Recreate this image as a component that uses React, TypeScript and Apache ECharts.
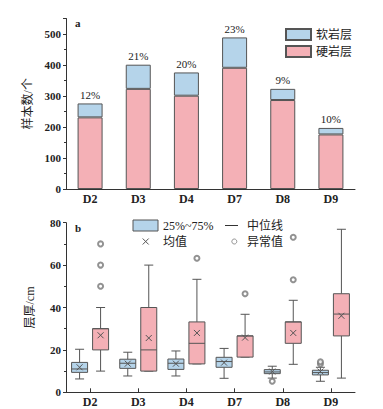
import React, { useEffect, useRef } from "react";
import * as echarts from "echarts";

const categories = ["D2", "D3", "D4", "D7", "D8", "D9"];
const hardCounts = [231, 323, 301, 391, 287, 176];
const softCounts = [45, 78, 75, 98, 36, 21];
const softPercentLabels = ["12%", "21%", "20%", "23%", "9%", "10%"];

// [min, q1, median, q3, max, mean]
const softBoxStats = [
  [6.3, 9.4, 11, 14.1, 20.3, 11.8],
  [7.7, 11.3, 13.7, 15.6, 18.9, 13.5],
  [7.7, 10.8, 13.7, 15.7, 19.5, 13.5],
  [6.6, 11.8, 14.5, 16.5, 20.7, 14],
  [6.7, 8.8, 9.6, 10.7, 12.3, 9.8],
  [5.2, 8.2, 9.3, 10.4, 11.8, 9.8],
];
const hardBoxStats = [
  [10, 20, 30, 30, 40, 26.9],
  [10, 10, 20, 40, 60, 25.6],
  [13.4, 13.4, 23.1, 33.2, 53.3, 28],
  [16.6, 16.6, 26.6, 26.6, 36.8, 25.8],
  [13.2, 23.1, 33.2, 33.2, 43.4, 28],
  [6.7, 26.6, 36.9, 46.5, 76.9, 36.1],
];
// [categoryIndex, value]
const softOutliers = [
  [4, 5.2],
  [5, 13.4],
  [5, 14.4],
];
const hardOutliers = [
  [0, 50],
  [0, 60],
  [0, 70],
  [2, 63.2],
  [3, 46.5],
  [4, 53.1],
  [4, 73.1],
];

const BLUE = "#b5d4ea";
const PINK = "#f4b0b6";
const EDGE = "#555555";
const SERIF = "'Liberation Serif', 'Noto Sans CJK SC', serif";
const TXT = "#222222";
const BOX_W = 16;
const OFFSET = 10.5;

function makeRender(offset: number, fill: string) {
  return (params: any, api: any) => {
    const idx = api.value(0);
    const cx = api.coord([idx, 0])[0] + offset;
    const py = (d: number) => api.coord([idx, api.value(d)])[1];
    const yMin = py(1), yQ1 = py(2), yMed = py(3), yQ3 = py(4), yMax = py(5), yMean = py(6);
    const hw = BOX_W / 2;
    const cap = 4.5;
    const m = 3;
    const st = { stroke: EDGE, lineWidth: 1 };
    return {
      type: "group",
      children: [
        { type: "line", shape: { x1: cx, y1: yMax, x2: cx, y2: yQ3 }, style: st },
        { type: "line", shape: { x1: cx - cap, y1: yMax, x2: cx + cap, y2: yMax }, style: st },
        { type: "line", shape: { x1: cx, y1: yQ1, x2: cx, y2: yMin }, style: st },
        { type: "line", shape: { x1: cx - cap, y1: yMin, x2: cx + cap, y2: yMin }, style: st },
        {
          type: "rect",
          shape: { x: cx - hw, y: yQ3, width: BOX_W, height: yQ1 - yQ3 },
          style: { fill, stroke: EDGE, lineWidth: 1 },
        },
        { type: "line", shape: { x1: cx - hw, y1: yMed, x2: cx + hw, y2: yMed }, style: st },
        { type: "line", shape: { x1: cx - m, y1: yMean - m, x2: cx + m, y2: yMean + m }, style: st },
        { type: "line", shape: { x1: cx - m, y1: yMean + m, x2: cx + m, y2: yMean - m }, style: st },
      ],
    };
  };
}

export default function App() {
  const ref = useRef<HTMLDivElement>(null);
  useEffect(() => {
    document.body.style.margin = "0";
    if (!ref.current) return;
    const chart = echarts.init(ref.current, null, { renderer: "svg" });
    const axisLine = { show: true, lineStyle: { color: "#333", width: 1 } };
    const xLabel = { color: TXT, fontFamily: SERIF, fontSize: 12, fontWeight: "bold" as const, margin: 4 };
    const yLabel = { color: TXT, fontFamily: SERIF, fontSize: 11, fontWeight: "bold" as const, margin: 5 };
    const softData = softBoxStats.map((s, i) => [i, ...s]);
    const hardData = hardBoxStats.map((s, i) => [i, ...s]);
    chart.setOption({
      animation: false,
      textStyle: { fontFamily: SERIF },
      grid: [
        { left: 66, right: 28, top: 18.5, bottom: 220 },
        { left: 66, right: 28, top: 222.7, bottom: 16.7 },
      ],
      legend: {
        data: ["软岩层", "硬岩层"],
        orient: "vertical",
        icon: "rect",
        left: 280,
        top: 23,
        itemWidth: 25,
        itemHeight: 11,
        itemGap: 4,
        textStyle: { fontFamily: SERIF, fontSize: 12, color: TXT },
      },
      xAxis: [
        {
          type: "category",
          gridIndex: 0,
          data: categories,
          axisLine,
          axisTick: { show: true, inside: true, alignWithLabel: true, length: 4, lineStyle: { color: "#333" } },
          axisLabel: xLabel,
        },
        {
          type: "category",
          gridIndex: 1,
          data: categories,
          axisLine,
          axisTick: { show: true, inside: true, alignWithLabel: true, length: 4, lineStyle: { color: "#333" } },
          axisLabel: xLabel,
        },
      ],
      yAxis: [
        {
          type: "value",
          gridIndex: 0,
          min: 0,
          max: 550,
          interval: 100,
          axisLine,
          axisTick: { show: true, length: 3, lineStyle: { color: "#333" } },
          minorTick: { show: true, splitNumber: 2, length: 2, lineStyle: { color: "#333" } },
          splitLine: { show: false },
          axisLabel: { ...yLabel, showMaxLabel: false },
          name: "样本数/个",
          nameLocation: "middle",
          nameGap: 30,
          nameTextStyle: { fontFamily: SERIF, fontSize: 12, color: TXT },
        },
        {
          type: "value",
          gridIndex: 1,
          min: 0,
          max: 80,
          interval: 20,
          axisLine,
          axisTick: { show: true, length: 3, lineStyle: { color: "#333" } },
          minorTick: { show: true, splitNumber: 2, length: 2, lineStyle: { color: "#333" } },
          splitLine: { show: false },
          axisLabel: yLabel,
          name: "层厚/cm",
          nameLocation: "middle",
          nameGap: 30,
          nameTextStyle: { fontFamily: SERIF, fontSize: 12, color: TXT },
        },
      ],
      series: [
        {
          name: "硬岩层",
          type: "bar",
          stack: "total",
          xAxisIndex: 0,
          yAxisIndex: 0,
          data: hardCounts,
          barWidth: 25,
          itemStyle: { color: PINK, borderColor: EDGE, borderWidth: 1 },
        },
        {
          name: "软岩层",
          type: "bar",
          stack: "total",
          xAxisIndex: 0,
          yAxisIndex: 0,
          data: softCounts,
          barWidth: 25,
          itemStyle: { color: BLUE, borderColor: EDGE, borderWidth: 1 },
          label: {
            show: true,
            position: "top",
            distance: 3,
            formatter: (p: any) => softPercentLabels[p.dataIndex],
            fontFamily: SERIF,
            fontSize: 11,
            color: TXT,
          },
        },
        {
          name: "soft-box",
          type: "custom",
          xAxisIndex: 1,
          yAxisIndex: 1,
          data: softData,
          encode: { x: 0, y: [1, 2, 3, 4, 5, 6] },
          renderItem: makeRender(-OFFSET, BLUE),
        },
        {
          name: "hard-box",
          type: "custom",
          xAxisIndex: 1,
          yAxisIndex: 1,
          data: hardData,
          encode: { x: 0, y: [1, 2, 3, 4, 5, 6] },
          renderItem: makeRender(OFFSET, PINK),
        },
        {
          name: "soft-out",
          type: "scatter",
          xAxisIndex: 1,
          yAxisIndex: 1,
          data: softOutliers,
          symbol: "emptyCircle",
          symbolSize: 5,
          symbolOffset: [-OFFSET, 0],
          itemStyle: { color: "#777", borderWidth: 0.8 },
        },
        {
          name: "hard-out",
          type: "scatter",
          xAxisIndex: 1,
          yAxisIndex: 1,
          data: hardOutliers,
          symbol: "emptyCircle",
          symbolSize: 5,
          symbolOffset: [OFFSET, 0],
          itemStyle: { color: "#777", borderWidth: 0.8 },
        },
      ],
      graphic: [
        { type: "text", left: 75, top: 17, style: { text: "a", font: `bold 11px ${SERIF}`, fill: TXT } },
        { type: "text", left: 75, top: 222, style: { text: "b", font: `bold 11px ${SERIF}`, fill: TXT } },
        { type: "rect", shape: { x: 133, y: 220, width: 25, height: 11 }, style: { fill: BLUE, stroke: EDGE, lineWidth: 1 } },
        { type: "text", x: 163, y: 225.5, style: { text: "25%~75%", font: `12px ${SERIF}`, fill: TXT, verticalAlign: "middle" } },
        { type: "line", shape: { x1: 225, y1: 225.5, x2: 238, y2: 225.5 }, style: { stroke: "#333", lineWidth: 1 } },
        { type: "text", x: 247, y: 225.5, style: { text: "中位线", font: `12px ${SERIF}`, fill: TXT, verticalAlign: "middle" } },
        { type: "line", shape: { x1: 142.7, y1: 238.5, x2: 148.7, y2: 244.5 }, style: { stroke: EDGE, lineWidth: 1 } },
        { type: "line", shape: { x1: 142.7, y1: 244.5, x2: 148.7, y2: 238.5 }, style: { stroke: EDGE, lineWidth: 1 } },
        { type: "text", x: 163, y: 241.5, style: { text: "均值", font: `12px ${SERIF}`, fill: TXT, verticalAlign: "middle" } },
        { type: "circle", shape: { cx: 234.3, cy: 241.5, r: 2.5 }, style: { fill: "none", stroke: "#777", lineWidth: 0.8 } },
        { type: "text", x: 247, y: 241.5, style: { text: "异常值", font: `12px ${SERIF}`, fill: TXT, verticalAlign: "middle" } },
      ],
    });
    return () => chart.dispose();
  }, []);
  return <div ref={ref} style={{ width: 383, height: 409 }} />;
}
